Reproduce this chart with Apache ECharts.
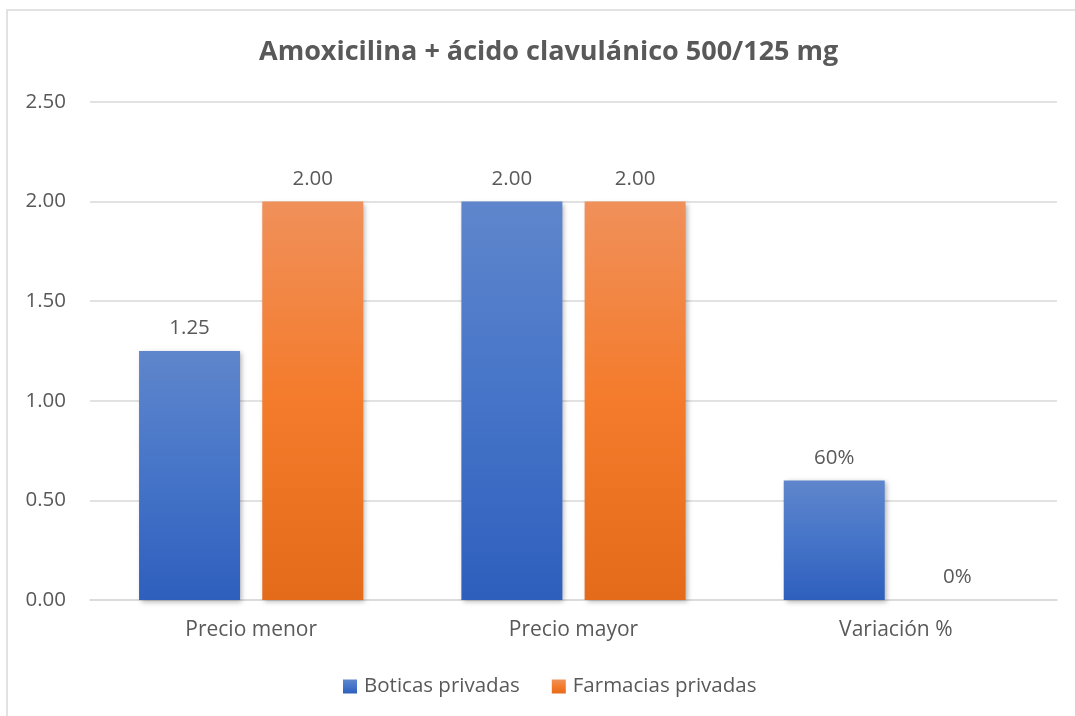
<!DOCTYPE html>
<html>
<head>
<meta charset="utf-8">
<script src="https://cdn.jsdelivr.net/npm/echarts@6/dist/echarts.min.js"></script>
<style>
  html, body { margin: 0; padding: 0; background: #fff; }
  #chart { width: 1075px; height: 716px; }
</style>
</head>
<body>
<div id="chart"></div>
<script>
const categories = ['Precio menor', 'Precio mayor', 'Variación %'];
const boticas = [1.25, 2.00, 0.60];
const farmacias = [2.00, 2.00, 0];
const yTicks = { min: 0, max: 2.5, interval: 0.5 };

const fontFamily = '"Open Sans", "Liberation Sans", sans-serif';
const textColor = '#595959';

// la fila "Variación %" se muestra como porcentaje
function labelFormat(p) {
  if (p.dataIndex === 2) return Math.round(p.value * 100) + '%';
  return p.value.toFixed(2);
}

function gradient(top, mid, bottom) {
  return new echarts.graphic.LinearGradient(0, 0, 0, 1, [
    { offset: 0, color: top },
    { offset: 0.5, color: mid },
    { offset: 1, color: bottom }
  ]);
}

const myChart = echarts.init(document.getElementById('chart'));
const option = {
  backgroundColor: '#fff',
  animation: false,
  graphic: [
    {
      type: 'rect',
      shape: { x: 7, y: 10, width: 1200, height: 1000 },
      style: { fill: 'none', stroke: '#d9d9d9', lineWidth: 1.5 },
      silent: true
    }
  ],
  title: {
    text: 'Amoxicilina + ácido clavulánico 500/125 mg',
    left: 254,
    top: 34,
    textStyle: { fontFamily: fontFamily, fontSize: 27, fontWeight: 'bold', color: textColor }
  },
  legend: {
    data: ['Boticas privadas', 'Farmacias privadas'],
    left: 338,
    top: 671,
    itemWidth: 14,
    itemHeight: 14,
    itemGap: 32,
    icon: 'rect',
    textStyle: { fontFamily: fontFamily, fontSize: 20.5, color: textColor, padding: [0, 0, 0, 2] }
  },
  grid: { left: 90, right: 18, top: 102, bottom: 116, containLabel: false },
  xAxis: {
    type: 'category',
    data: categories,
    axisTick: { show: false },
    axisLine: { lineStyle: { color: '#d9d9d9', width: 1.5 } },
    axisLabel: { fontFamily: fontFamily, fontSize: 21, color: textColor, margin: 20 }
  },
  yAxis: {
    type: 'value',
    min: yTicks.min,
    max: yTicks.max,
    interval: yTicks.interval,
    axisLine: { show: false },
    axisTick: { show: false },
    splitLine: { lineStyle: { color: '#d9d9d9', width: 1.5 } },
    axisLabel: {
      fontFamily: fontFamily, fontSize: 20.5, color: textColor, margin: 24,
      formatter: v => v.toFixed(2)
    }
  },
  series: [
    {
      name: 'Boticas privadas',
      type: 'bar',
      data: boticas,
      barWidth: 101,
      barGap: '22%',
      itemStyle: {
        color: gradient('#5f86cc', '#4574c8', '#2e5fbd'),
        shadowColor: 'rgba(0,0,0,0.3)', shadowBlur: 5, shadowOffsetX: 2, shadowOffsetY: 2
      },
      label: {
        show: true, position: 'top', distance: 12, formatter: labelFormat,
        fontFamily: fontFamily, fontSize: 20.5, color: textColor
      }
    },
    {
      name: 'Farmacias privadas',
      type: 'bar',
      data: farmacias,
      barWidth: 101,
      itemStyle: {
        color: gradient('#f0905a', '#f47b2b', '#e46b1a'),
        shadowColor: 'rgba(0,0,0,0.3)', shadowBlur: 5, shadowOffsetX: 2, shadowOffsetY: 2
      },
      label: {
        show: true, position: 'top', distance: 12, formatter: labelFormat,
        fontFamily: fontFamily, fontSize: 20.5, color: textColor
      }
    }
  ]
};
myChart.setOption(option);
</script>
</body>
</html>
